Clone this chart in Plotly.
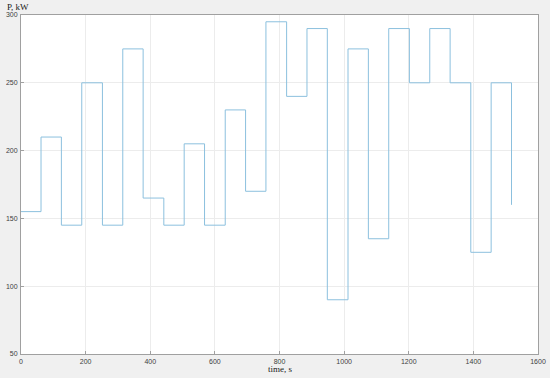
import plotly.graph_objects as go

# step start times (s) and power level (kW) held from that time on
time_s = [0, 62, 125, 188, 252, 315, 378, 442, 505, 568, 632, 695,
          758, 822, 885, 948, 1012, 1075, 1138, 1202, 1265, 1328, 1392, 1455, 1518]
power_kw = [155, 210, 145, 250, 145, 275, 165, 145, 205, 145, 230, 170,
            295, 240, 290, 90, 275, 135, 290, 250, 290, 250, 125, 250, 160]

x_ticks = [0, 200, 400, 600, 800, 1000, 1200, 1400, 1600]
y_ticks = [50, 100, 150, 200, 250, 300]

fig = go.Figure()
fig.add_trace(go.Scatter(
    x=time_s, y=power_kw,
    mode="lines",
    line=dict(color="#8cc0de", width=1, shape="hv"),
    showlegend=False,
))

axis_common = dict(
    showgrid=True, gridcolor="#ececec", gridwidth=1,
    zeroline=False, automargin=False,
    showline=True, linecolor="#a0a0a0", linewidth=1, mirror=True,
    ticks="inside", ticklen=3, tickcolor="#a0a0a0",
    tickfont=dict(family="Liberation Sans", size=7, color="#404040"),
)

fig.update_layout(
    width=550, height=378,
    margin=dict(l=21, r=12, t=15, b=24),
    paper_bgcolor="#f0f0f0",
    plot_bgcolor="white",
    xaxis=dict(range=[0, 1600], tickvals=x_ticks, ticklabelstandoff=1, **axis_common),
    yaxis=dict(range=[50, 300], tickvals=y_ticks, ticklabelstandoff=1, **axis_common),
    annotations=[
        dict(text="P, kW", xref="paper", yref="paper", x=0, y=1,
             xanchor="center", yanchor="middle", xshift=-3, yshift=8, showarrow=False,
             font=dict(family="Liberation Serif", size=9, color="#202020")),
        dict(text="time, s", xref="paper", yref="paper", x=0.5, y=0,
             xanchor="center", yanchor="middle", yshift=-15, showarrow=False,
             font=dict(family="Liberation Serif", size=9, color="#202020")),
    ],
)

# page body has a default margin; drop it so the figure fills the window
fig.write_html("out.html", config={"displayModeBar": False},
               post_script="document.body.style.margin='0';")
